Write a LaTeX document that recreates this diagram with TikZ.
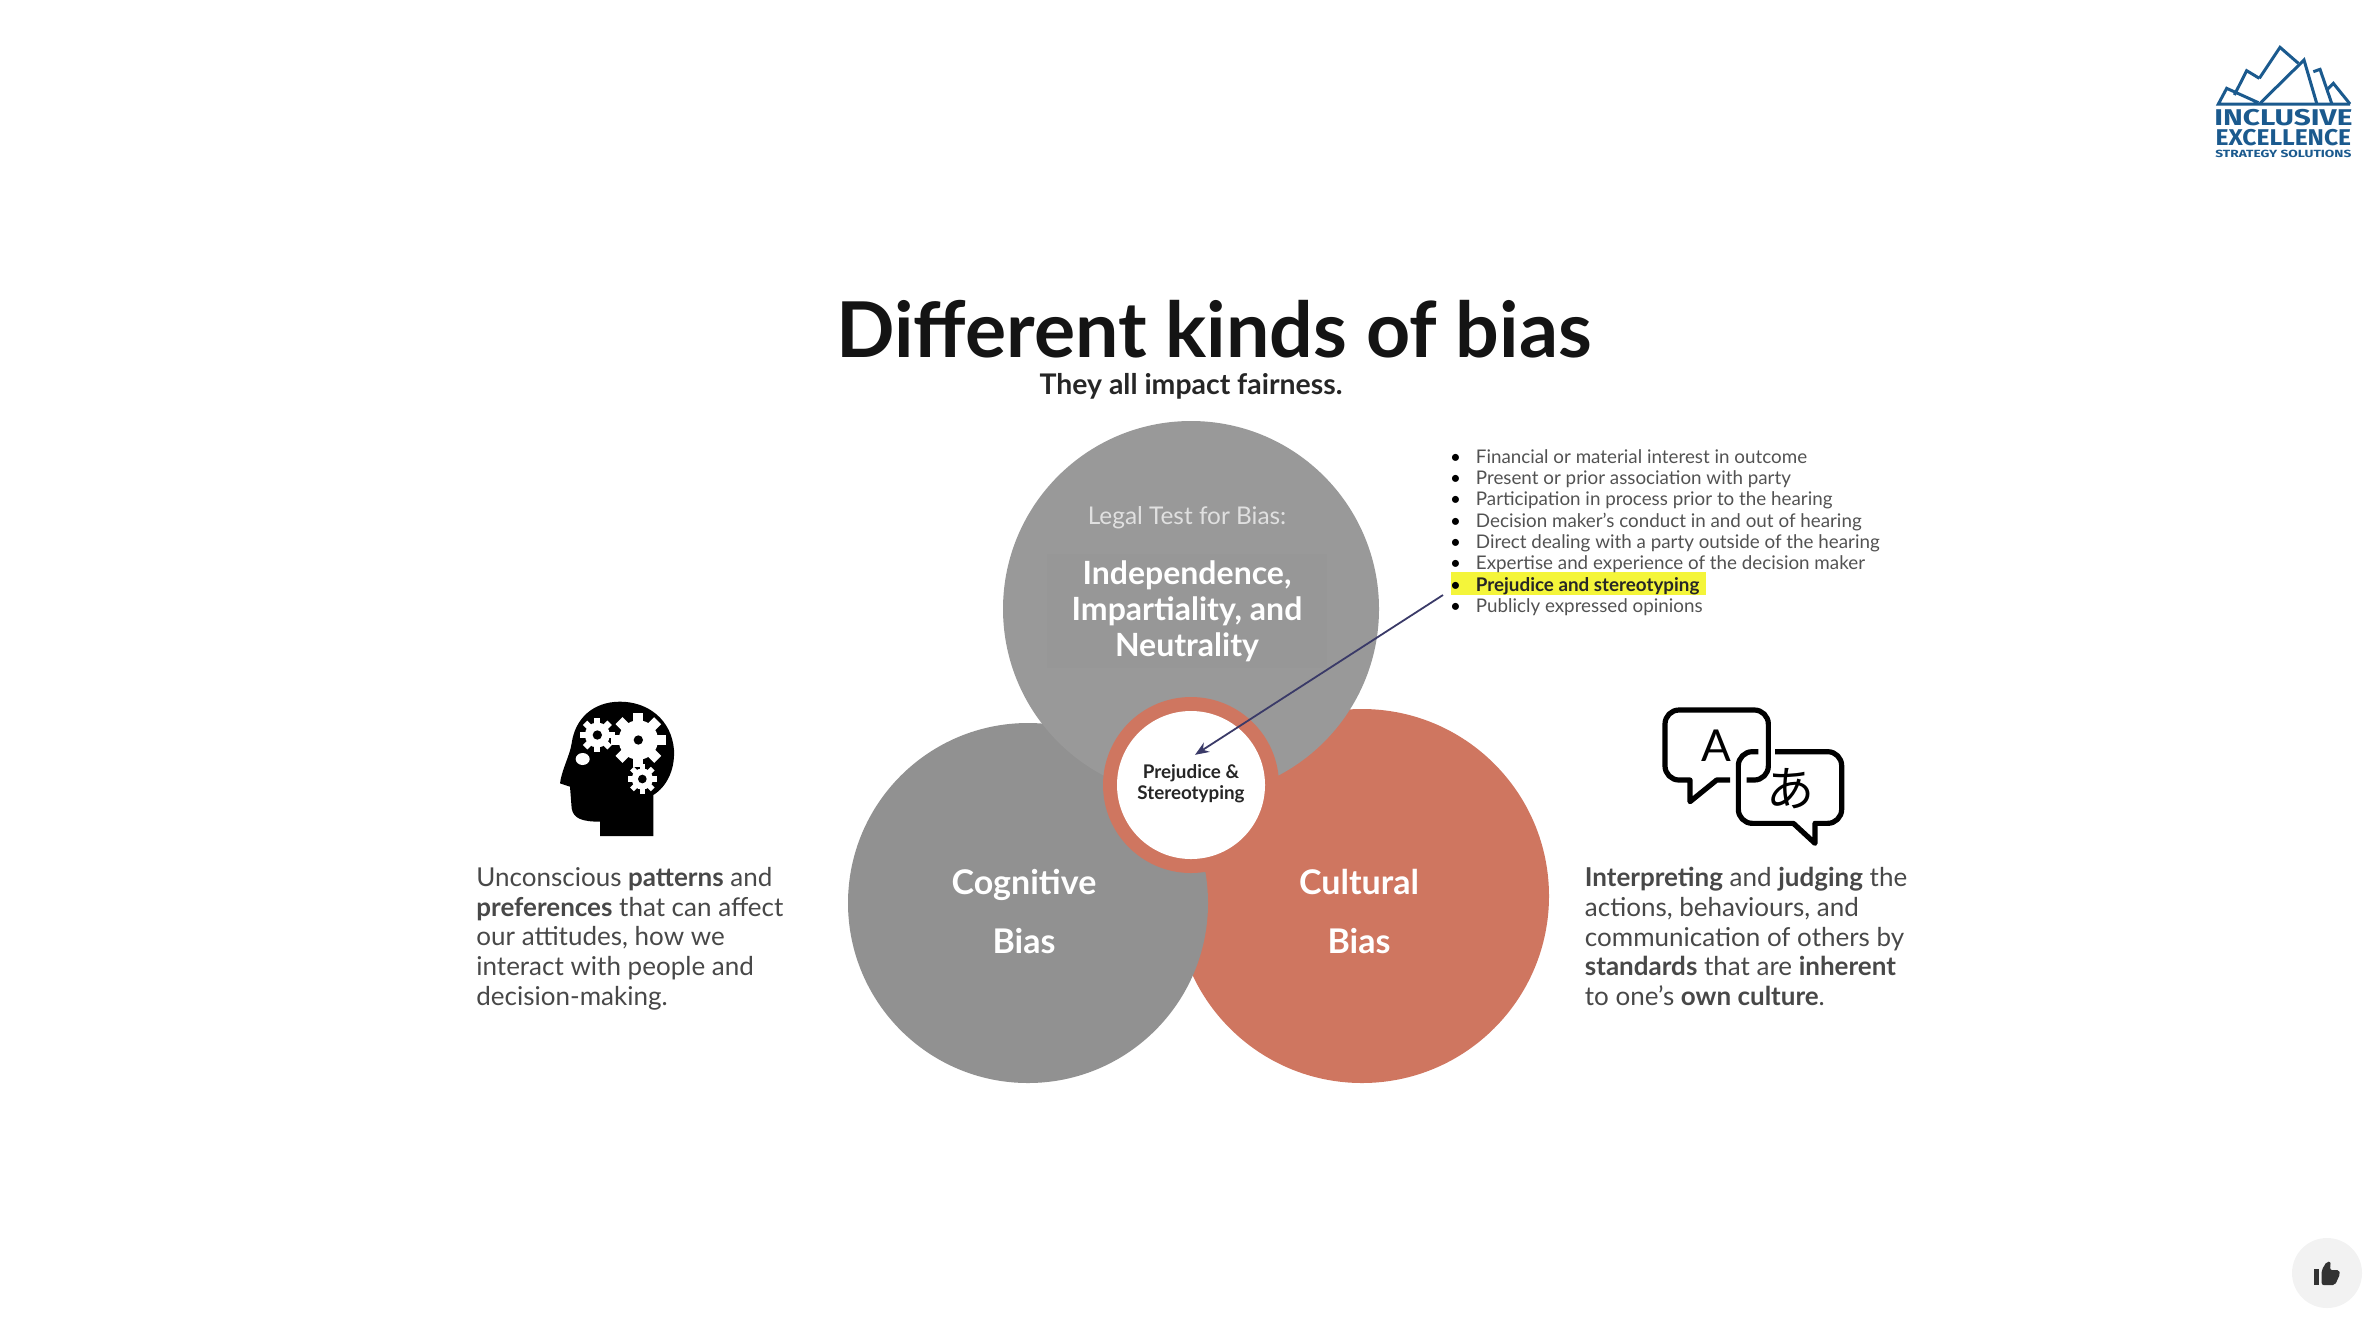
\documentclass[tikz,border=0pt]{standalone}
\usepackage{fontspec}
\setmainfont{Lato}
\newfontfamily\logofont{Fira Sans}
\newfontfamily\cjkfont{Noto Sans CJK JP}
\usetikzlibrary{positioning, arrows.meta}
\definecolor{topgray}{HTML}{999999}
\definecolor{boxgray}{HTML}{979797}
\definecolor{leftgray}{HTML}{919191}
\definecolor{clay}{HTML}{CF7660}
\definecolor{logoblue}{HTML}{1B5A8E}
\definecolor{bodyink}{HTML}{484848}
\definecolor{markyellow}{HTML}{F4F53A}
\definecolor{arrowink}{HTML}{3A3A68}

\newcommand{\gearwheel}[4]{%
  \fill[white] (#1,#2) circle ({.72*#3});
  \foreach \a in {0,45,...,315}
    \fill[white, shift={(#1,#2)}, rotate=\a] ({-.18*#3},0) rectangle ({.18*#3},{-1*#3});
  \fill[black] (#1,#2) circle (#4);
}

\begin{document}
\begin{tikzpicture}[
  x=.5pt, y=-.5pt,
  bubbleline/.style={draw=black, line width=2.6pt, line join=round},
  bigcircle/.style={circle, inner sep=0pt},
  circletext/.style={white, anchor=base, font=\bfseries\fontsize{17}{20}\selectfont, align=center},
  bodytext/.style={bodyink, anchor=north west, align=left, inner sep=0pt, font=\fontsize{13}{14.85}\selectfont},
  logoline/.style={draw=logoblue, line width=1.5pt, line join=miter},
  logotext/.style={logoblue, inner sep=0pt}
]
\useasboundingbox (0,0) rectangle (2380,1324);

% ======================
% CIRCLES
% ======================
\node[bigcircle, fill=clay, minimum size=187pt] (cultural) at (1362,896) {};
\node[bigcircle, fill=leftgray, minimum size=180pt] (cognitive) at (1028,903) {};
\node[bigcircle, fill=topgray, minimum size=188pt] (legal) at (1191,609) {};
\node[bigcircle, fill=clay, minimum size=88pt] (ring) at (1191,785) {};
\node[bigcircle, fill=white, minimum size=74pt] (centre) at (1191,785) {};

% ======================
% TITLE
% ======================
\node[font=\bfseries\fontsize{38.5}{40}\selectfont, text=black!92] (title) at (1214,329) {Different kinds of bias};
\node[font=\bfseries\fontsize{14.2}{15}\selectfont, text=black!85] (subtitle) at (1191,386) {They all impact fairness.};

% ======================
% CIRCLE TEXTS
% ======================
\node[white!88!black, font=\fontsize{12.2}{13}\selectfont] (legaltest) at (1187,518) {Legal Test for Bias:};
\node[white, align=center, fill=boxgray, font=\bfseries\fontsize{16}{18}\selectfont, minimum width=140pt] (legalname) at (1187,611) {Independence,\\Impartiality, and\\Neutrality};
\node[circletext] (cogname) at (1024,894) {Cognitive};
\node[circletext] (cogbias) at (1024,953) {Bias};
\node[circletext] (culname) at (1359,894) {Cultural};
\node[circletext] (culbias) at (1359,953) {Bias};
\node[black!85, align=center, inner sep=4.5pt, font=\bfseries\fontsize{9.4}{10.6}\selectfont] (prejtext) at (1191,783.5) {Prejudice \&\\Stereotyping};

% ======================
% LIST
% ======================
\node[fill=markyellow, inner sep=0pt, minimum width=127.5pt, minimum height=11.5pt] (mark) at (1578.5,583.5) {};
\node[bodytext, font=\fontsize{9.4}{10.65}\selectfont, text=black!68] (factors) at (1446.5,449) {
\makebox[14.5pt][l]{\,\textcolor{black}{\textbullet}}Financial or material interest in outcome\\
\makebox[14.5pt][l]{\,\textcolor{black}{\textbullet}}Present or prior association with party\\
\makebox[14.5pt][l]{\,\textcolor{black}{\textbullet}}Participation in process prior to the hearing\\
\makebox[14.5pt][l]{\,\textcolor{black}{\textbullet}}Decision maker's conduct in and out of hearing\\
\makebox[14.5pt][l]{\,\textcolor{black}{\textbullet}}Direct dealing with a party outside of the hearing\\
\makebox[14.5pt][l]{\,\textcolor{black}{\textbullet}}Expertise and experience of the decision maker\\
\makebox[14.5pt][l]{\,\textcolor{black}{\textbullet}}\textcolor{black!85}{\bfseries Prejudice and stereotyping}\\
\makebox[14.5pt][l]{\,\textcolor{black}{\textbullet}}Publicly expressed opinions
};

% ======================
% SIDE TEXTS
% ======================
\node[bodytext] (lefttext) at (476,867) {
Unconscious \textbf{patterns} and\\
\textbf{preferences} that can affect\\
our attitudes, how we\\
interact with people and\\
decision-making.
};
\node[bodytext] (righttext) at (1584.5,867) {
\textbf{Interpreting} and \textbf{judging} the\\
actions, behaviours, and\\
communication of others by\\
\textbf{standards} that are \textbf{inherent}\\
to one's \textbf{own culture}.
};

% ======================
% ARROW
% ======================
\coordinate (markfoot) at (1443,595);
\draw[-{Stealth[length=7pt,width=5.5pt]}, draw=arrowink, fill=arrowink, line width=.9pt] (markfoot) -- ([xshift=2pt]prejtext.north);

% ======================
% HEAD
% ======================
\begin{scope}[shift={(520,680)}, scale=1/3]
\fill[black] (240,468) -- (400,468) -- (400,345)
  .. controls (440,320) and (465,270) .. (462,210)
  .. controls (455,120) and (385,65) .. (300,65)
  .. controls (220,65) and (165,115) .. (155,190)
  .. controls (150,225) and (125,270) .. (120,310)
  -- (150,320) -- (155,385)
  .. controls (160,415) and (185,425) .. (240,425) -- cycle;
\gearwheel{232}{165}{52}{14}
\gearwheel{355}{180}{82}{14}
\gearwheel{367}{297}{44}{13}
\fill[white] (188,237) ellipse (21 and 18);
\end{scope}

% ======================
% SPEECH BUBBLES
% ======================
\begin{scope}[shift={(1640,690)}, scale=1/3]
\draw[bubbleline] (270,270) -- (230,270) -- (150,335) -- (150,270) [rounded corners=7pt] -- (75,270) -- (75,60) -- (385,60) -- (385,270) -- (320,270);
\draw[bubbleline] (355,185) [rounded corners=7pt] -- (295,185) -- (295,400) -- (400,400) [sharp corners] -- (460,400) -- (525,460) -- (525,400) [rounded corners=7pt] -- (605,400) -- (605,185) -- (405,185);
\node[font=\fontsize{22}{24}\selectfont] (latin) at (228,168) {A};
\node[font=\cjkfont\fontsize{24}{26}\selectfont] (kana) at (450,295) {あ};
\end{scope}

% ======================
% LOGO
% ======================
\begin{scope}[shift={(2180,20)}, scale=1/3]
\draw[logoline] (510,252) -- (115,252) -- (140,205) -- (235,248);
\draw[logoline] (163,225) -- (200,152) -- (238,175);
\draw[logoline] (238,175) -- (300,82) -- (355,130);
\draw[logoline] (240,250) -- (372,120) -- (410,250);
\draw[logoline] (400,155) -- (420,148) -- (455,250);
\draw[logoline] (440,210) -- (460,190) -- (510,252);
\node[logotext, font=\logofont\bfseries\fontsize{11.4}{12}\selectfont] (logoa) at (310,293) {\scalebox{1.31}[1]{INCLUSIVE}};
\node[logotext, font=\logofont\bfseries\fontsize{11.4}{12}\selectfont] (logob) at (310,354) {\scalebox{1.08}[1]{EXCELLENCE}};
\node[logotext, font=\logofont\bfseries\fontsize{5.2}{6}\selectfont] (logoc) at (310,403) {\scalebox{1.32}[1]{STRATEGY SOLUTIONS}};
\end{scope}

% ======================
% THUMB BUTTON
% ======================
\node[bigcircle, fill=black!5, minimum size=35pt] (thumbdisc) at (2327,1273) {};
\begin{scope}[shift={(2280,1220)}, scale=1/3]
\fill[black!80] (103,148) rectangle (118,195);
\fill[black!80, rounded corners=1pt] (125,150) -- (140,125) -- (152,125) -- (150,150) -- (178,150) -- (180,162) -- (165,195) -- (125,195) -- cycle;
\end{scope}

\end{tikzpicture}
\end{document}
